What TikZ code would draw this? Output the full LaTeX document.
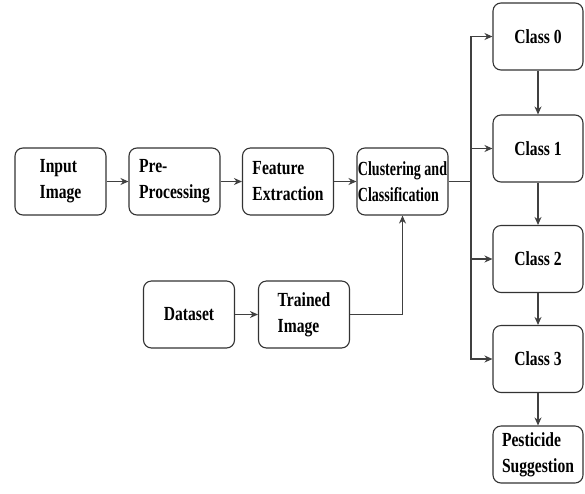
\documentclass[tikz,border=0pt]{standalone}
\usepackage{fontspec}
\setmainfont[FakeStretch=0.78]{Liberation Serif}
\usetikzlibrary{arrows.meta}
\begin{document}
\begin{tikzpicture}[x=1pt,y=-1pt,
  box/.style={draw=black!80, line width=1.1pt, rounded corners=8pt, minimum width=91pt, minimum height=67pt, inner sep=0pt,
    align=left, font=\fontsize{20}{26}\selectfont\bfseries},
  conn/.style={draw=black!75, line width=1.1pt},
  arr/.style={conn, -{Stealth[length=8pt,width=7pt]}}]
\useasboundingbox (0,0) rectangle (585,493);
\node[box] (in) at (60.5,181.5) {Input\\Image};
\node[box] (pre) at (174.5,181.5) {Pre-\\Processing};
\node[box] (fe) at (288,181.5) {Feature\\Extraction};
\node[box, font=\fontsize{20}{26}\selectfont\bfseries\addfontfeature{FakeStretch=0.7}] (cc) at (402.5,181.5) {Clustering and\\Classification};
\node[box] (ds) at (189,314.5) {Dataset};
\node[box] (ti) at (304,314.5) {Trained\\Image};
\node[box, minimum width=90pt] (c0) at (538,36.5) {Class 0};
\node[box, minimum width=90pt] (c1) at (538,148.5) {Class 1};
\node[box, minimum width=90pt] (c2) at (538,259) {Class 2};
\node[box, minimum width=90pt] (c3) at (538,359) {Class 3};
\node[box, minimum width=90pt, minimum height=57pt] (ps) at (538,454.5) {Pesticide\\Suggestion};
\coordinate (bus) at (471,181.5);
\draw[arr] (in) -- (pre);
\draw[arr] (pre) -- (fe);
\draw[arr] (fe) -- (cc);
\draw[arr] (ds) -- (ti);
\draw[arr] (ti.east) -| (cc.south);
\draw[conn] (cc.east) -- (bus);
\draw[arr] (bus) |- (c0.west);
\draw[arr] (bus) |- (c1.west);
\draw[arr] (bus) |- (c2.west);
\draw[arr] (bus) |- (c3.west);
\draw[arr] (c0) -- (c1);
\draw[arr] (c1) -- (c2);
\draw[arr] (c2) -- (c3);
\draw[arr] (c3) -- (ps);
\end{tikzpicture}
\end{document}
